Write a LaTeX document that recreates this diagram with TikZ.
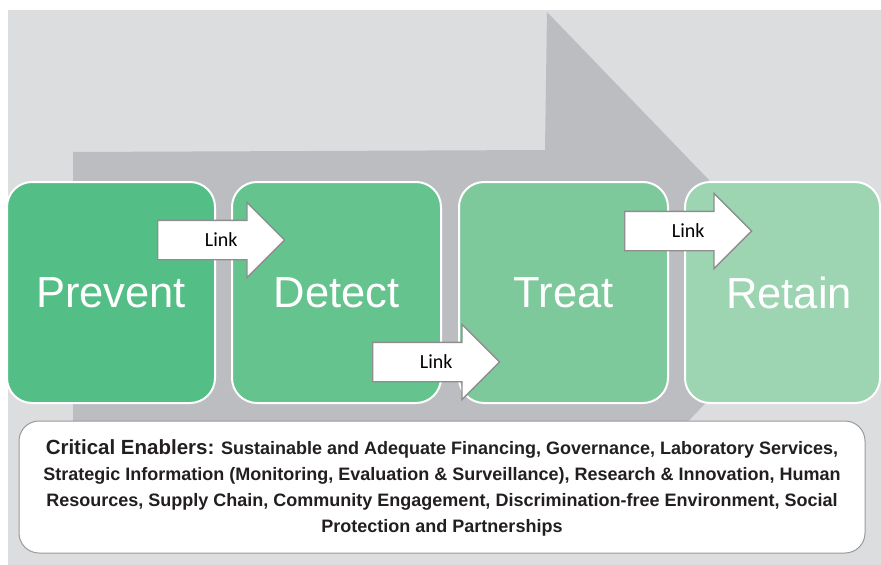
\documentclass[tikz,border=0pt]{standalone}
\usepackage{fontspec}
\setmainfont{Liberation Sans}
\newfontfamily\linkfont{Carlito}
\newfontfamily\enfont{Liberation Sans}
\usetikzlibrary{shapes.arrows,calc}
\definecolor{bglight}{HTML}{DCDDDF}
\definecolor{bgdark}{HTML}{BCBDC1}
\definecolor{gPrevent}{HTML}{53BE85}
\definecolor{gDetect}{HTML}{65C38E}
\definecolor{gTreat}{HTML}{7EC99C}
\definecolor{gRetain}{HTML}{9DD4B2}
\definecolor{linkborder}{HTML}{8E8E8E}
\definecolor{enborder}{HTML}{9A9A9A}
\definecolor{entext}{HTML}{231F20}
\tikzset{
  stagebox/.style={rectangle, rounded corners=25pt, draw=white, line width=2pt,
    minimum height=221pt, inner sep=0pt, text=white,
    font=\fontsize{43.5}{43.5}\selectfont},
  linkarrow/.style={single arrow, draw=linkborder, fill=white, line width=1.3pt,
    minimum height=127pt, single arrow head extend=18pt,
    text height=13.5pt, text depth=4.5pt, inner ysep=10pt, inner xsep=4pt,
    anchor=tail},
  linktext/.style={inner sep=0pt, font=\linkfont\fontsize{20}{20}\selectfont, text=black},
  enline/.style={anchor=base, text=entext, inner sep=0pt,
    font=\enfont\bfseries\fontsize{18}{22}\selectfont},
}
\begin{document}
\begin{tikzpicture}[x=1pt,y=-1pt]
\useasboundingbox (0,0) rectangle (881,565);
% background
\fill[bglight] (8,10) rectangle (881,565);
% big arrow
\fill[bgdark] (73,152) -- (545,150) -- (547,12) -- (815,290) -- (670,440) -- (73,440) -- cycle;
% stage boxes
\node[stagebox, fill=gPrevent, minimum width=208pt] (prevent) at (111,292.5) {Prevent};
\node[stagebox, fill=gDetect, minimum width=209pt] (detect) at (336.5,292.5) {Detect};
\node[stagebox, fill=gTreat, minimum width=209pt] (treat) at (563.5,292.5) {Treat};
\node[stagebox, fill=gRetain, minimum width=195pt] (retain) at (782.5,292.5) {\hspace*{13pt}Retain};
% link arrows
\node[linkarrow] (link1) at (157,240) {};
\node[linktext] (link1t) at ($(link1.tail)!0.5!(link1.tip)$) {Link};
\node[linkarrow] (link2) at (372,362) {};
\node[linktext] (link2t) at ($(link2.tail)!0.5!(link2.tip)$) {Link};
\node[linkarrow] (link3) at (624,231) {};
\node[linktext] (link3t) at ($(link3.tail)!0.5!(link3.tip)$) {Link};
% enablers box
\node[rectangle, rounded corners=20pt, draw=enborder, line width=1pt, fill=white,
  minimum width=846pt, minimum height=132pt] (enablers) at (442,487) {};
\node[enline] (en1) at (442,454) {{\fontsize{20.5}{22}\selectfont Critical Enablers:} Sustainable and Adequate Financing, Governance, Laboratory Services,};
\node[enline] (en2) at (442,480) {Strategic Information (Monitoring, Evaluation \& Surveillance), Research \& Innovation, Human};
\node[enline] (en3) at (442,506) {Resources, Supply Chain, Community Engagement, Discrimination-free Environment, Social};
\node[enline] (en4) at (442,532) {Protection and Partnerships};
\end{tikzpicture}
\end{document}
